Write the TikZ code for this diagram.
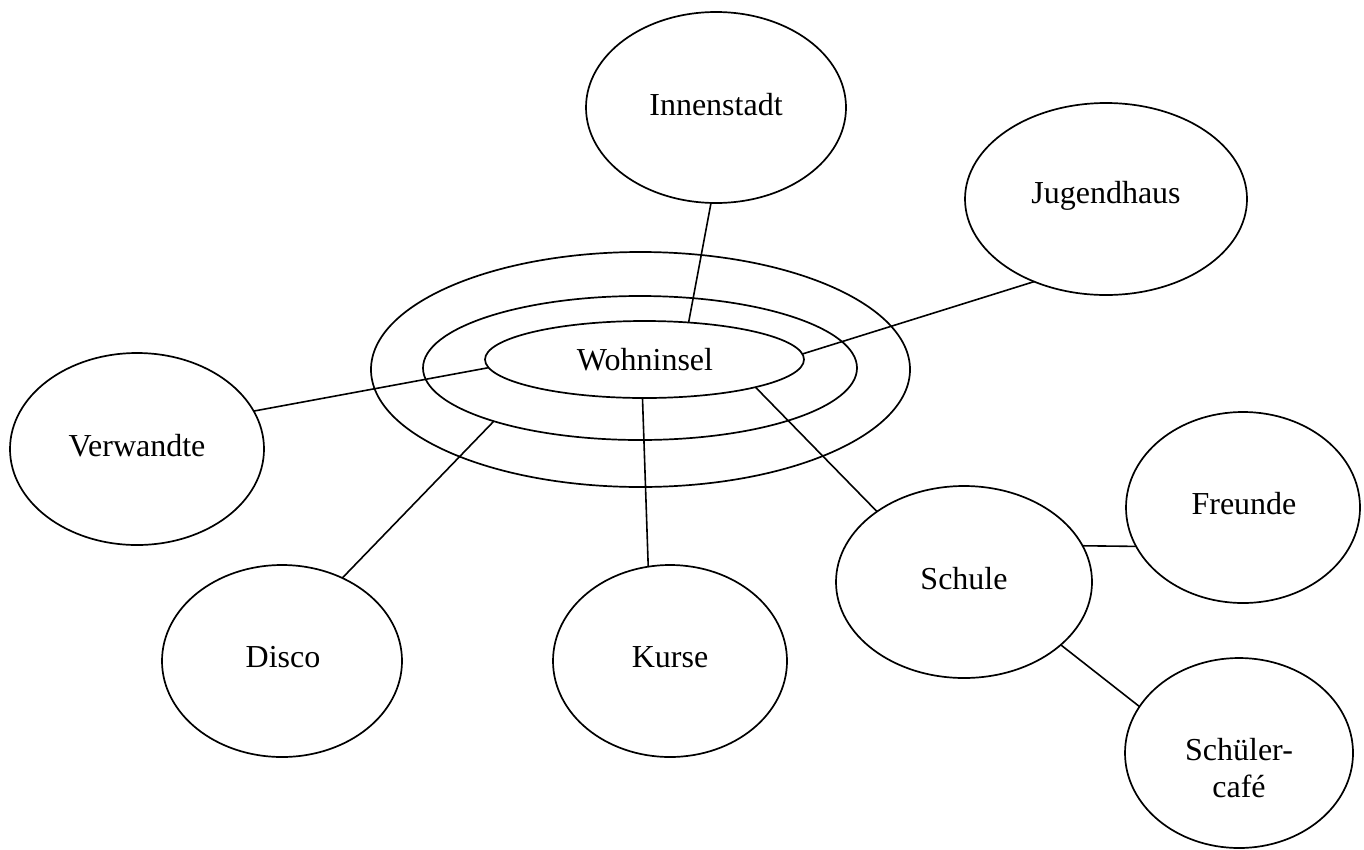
\documentclass[tikz,border=0pt]{standalone}
\usepackage{fontspec}
\setmainfont{Liberation Serif}
\usetikzlibrary{shapes.geometric}
\begin{document}
\begin{tikzpicture}[x=1pt,y=-1pt,
  ring/.style={draw=black,line width=1.7pt,ellipse,inner sep=0pt,outer sep=0pt},
  lbl/.style={inner sep=0pt,anchor=base,font=\fontsize{32}{37}\selectfont},
  conn/.style={draw=black,line width=1.6pt}]
\useasboundingbox (0,0) rectangle (1364,849);
% concentric ellipses
\node[ring,minimum width=539pt,minimum height=235pt] (outer) at (640.5,369.5) {};
\node[ring,minimum width=434pt,minimum height=144pt] (mid) at (640,368) {};
\node[ring,minimum width=319pt,minimum height=77pt] (inner) at (644.5,359.5) {};
% satellites
\node[ring,minimum width=260pt,minimum height=191pt] (inn) at (716,107.5) {};
\node[ring,minimum width=282pt,minimum height=192pt] (jug) at (1106,199) {};
\node[ring,minimum width=254pt,minimum height=192pt] (ver) at (137,449) {};
\node[ring,minimum width=240pt,minimum height=192pt] (dis) at (282,661) {};
\node[ring,minimum width=234pt,minimum height=192pt] (kur) at (670,661) {};
\node[ring,minimum width=256pt,minimum height=192pt] (sch) at (964,582) {};
\node[ring,minimum width=234pt,minimum height=191pt] (fre) at (1243,507.5) {};
\node[ring,minimum width=228pt,minimum height=190pt] (caf) at (1239,753) {};
% labels
\node[lbl] (t-woh) at (645,370) {Wohninsel};
\node[lbl] (t-inn) at (716,115) {Innenstadt};
\node[lbl] (t-jug) at (1106,203) {Jugendhaus};
\node[lbl] (t-ver) at (137,456) {Verwandte};
\node[lbl] (t-dis) at (283,667) {Disco};
\node[lbl] (t-kur) at (670,667) {Kurse};
\node[lbl] (t-sch) at (964,589) {Schule};
\node[lbl] (t-fre) at (1244,514) {Freunde};
\node[lbl,align=center] (t-caf) at (1239,797) {Schüler-\\café};
% connectors
\draw[conn] (inn.-93) -- (inner.40.4);
\draw[conn] (jug.-131.3) -- (inner.2.3);
\draw[conn] (ver.18.7) -- (inner.-177.7);
\draw[conn] (dis.54.8) -- (mid.-160.7);
\draw[conn] (kur.103) -- (inner.-93.7);
\draw[conn] (sch.141.8) -- (inner.-14.2);
\draw[conn] (sch.17.8) -- (fre.-160);
\draw[conn] (sch.-33.1) -- (caf.155.8);
\end{tikzpicture}
\end{document}
